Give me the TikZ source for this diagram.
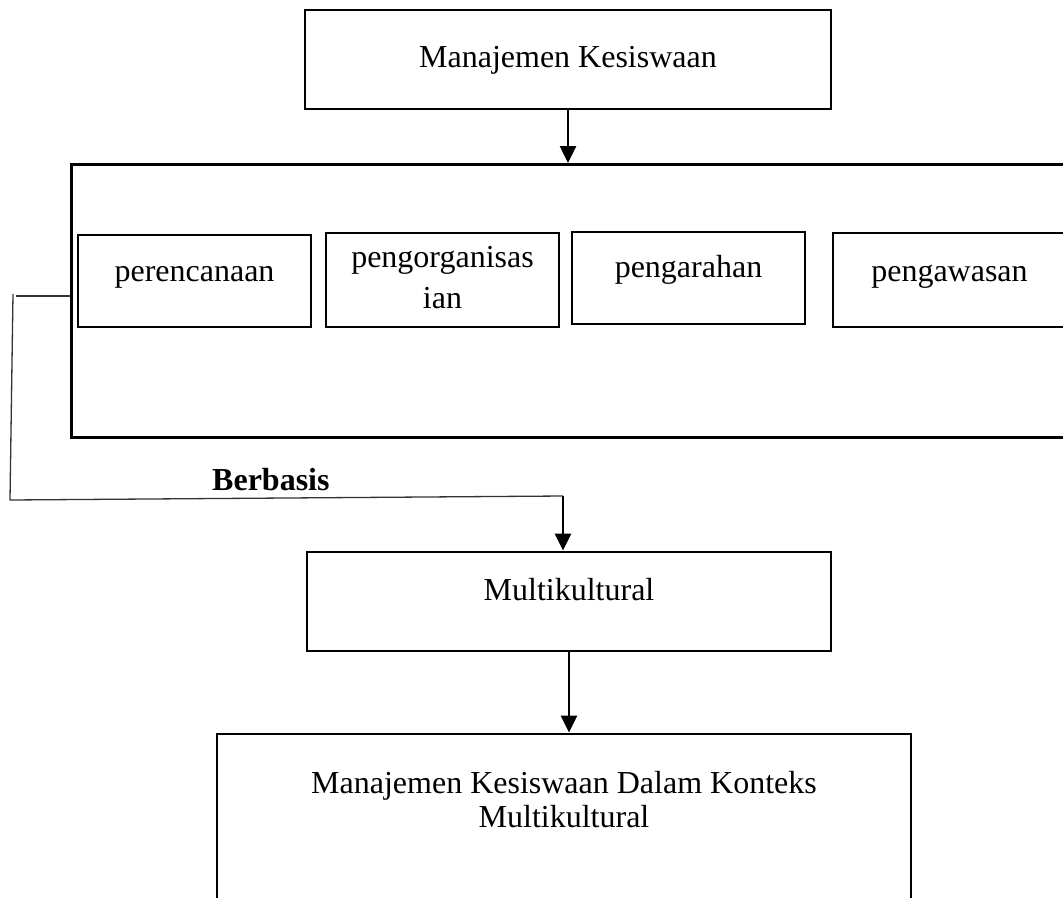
\documentclass[tikz,border=0pt]{standalone}
\usepackage{fontspec}
\setmainfont{Liberation Serif}
\usetikzlibrary{arrows.meta}
\begin{document}
\begin{tikzpicture}[x=1pt,y=-1pt,
  box/.style={draw, line width=2.8pt, inner sep=0pt, anchor=base, align=center,
    minimum width=233pt, font=\fontsize{32}{31}\selectfont},
  frame/.style={draw, line width=2.8pt, inner sep=0pt, anchor=north west},
  link/.style={line width=1.3pt, black!80},
  arr/.style={line width=2.6pt, -{Triangle[length=17pt,width=16pt]}},
]
\useasboundingbox (0,0) rectangle (1063,897);
\clip (0,0) rectangle (1063,897);

% heading box
\node[box, minimum width=526pt, text height=57pt, text depth=42pt] (mk) at (568,67) {Manajemen Kesiswaan};

% frame holding the four functions (runs past the right edge)
\node[frame, minimum width=1030pt, minimum height=273pt] (fn) at (70,163) {};

% the four management functions (multi-line text sits on its last line)
\node[box, text height=46pt, text depth=46pt] (p1) at (194.5,281) {perencanaan};
\node[box, text height=75pt, text depth=19pt] (p2) at (442.5,308) {pengorganisas\\[10pt]ian};
\node[box, text height=45pt, text depth=47pt] (p3) at (688.5,277) {pengarahan};
\node[box, text height=48pt, text depth=46pt] (p4) at (949.5,281) {pengawasan};

% label on the bracket line
\node[anchor=base west, inner sep=0pt, font=\bfseries\fontsize{32}{32}\selectfont] (bb) at (212,490) {Berbasis};

% multicultural box
\node[box, minimum width=524pt, text height=48pt, text depth=51pt] (mu) at (569,600) {Multikultural};

% result box (runs past the bottom edge)
\node[box, minimum width=694pt, text height=93pt, text depth=150pt] (mkm) at (564,827)
  {Manajemen Kesiswaan Dalam Konteks\\[3pt]Multikultural};

% bracket points
\coordinate (k0) at (16,296);
\coordinate (k1) at (13,294);
\coordinate (k2) at (10,500);
\coordinate (k3) at (563,496);

% connectors
\draw[arr] (mk.south) -- (mk.south |- fn.north);
\draw[link] (k0) -- (k0 -| fn.west);
\draw[link] (k1) -- (k2) -- (k3);
\draw[arr] (k3) -- (k3 |- mu.north);
\draw[arr] (mu.south) -- (mu.south |- mkm.north);
\end{tikzpicture}
\end{document}
